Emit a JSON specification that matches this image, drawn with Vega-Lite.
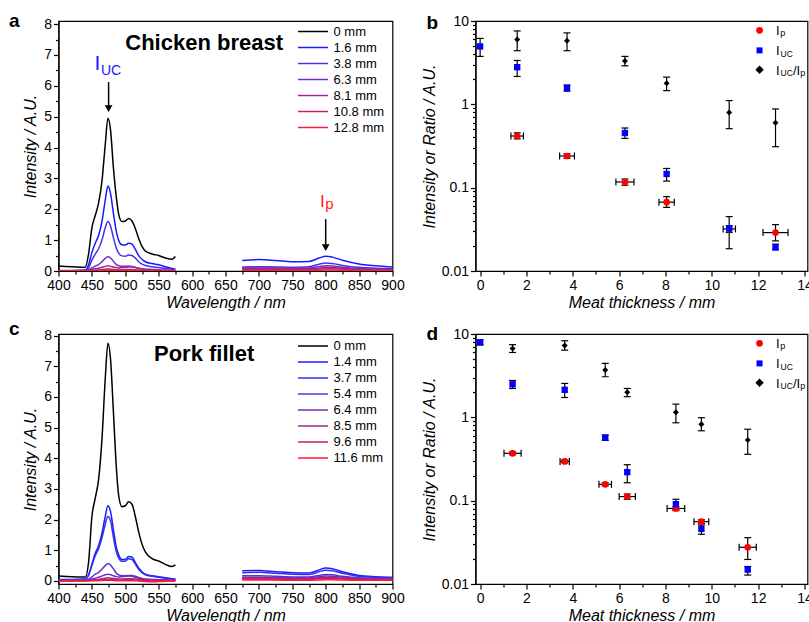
{
  "$schema": "https://vega.github.io/schema/vega-lite/v6.json",
  "padding": {"left": 7.5, "top": 11, "right": 0, "bottom": 0},
  "background": "white",
  "config": {
    "font": "Liberation Sans",
    "view": {"stroke": "#000", "strokeWidth": 1.2},
    "axis": {"domainColor": "#000", "domainWidth": 1.2, "tickColor": "#000", "tickWidth": 1.2, "tickSize": 5, "labelColor": "#000", "labelFontSize": 14, "labelFont": "Liberation Sans", "titleColor": "#000", "titleFontSize": 16, "titleFont": "Liberation Sans", "titleFontStyle": "italic", "titleFontWeight": "normal", "grid": false, "labelFlush": false, "labelPadding": 2, "labelOverlap": false, "labelSeparation": -10}
  },
  "resolve": {"scale": {"color": "independent", "shape": "independent", "size": "independent", "x": "independent", "y": "independent"}, "legend": {"color": "independent", "shape": "independent", "size": "independent"}},
  "columns": 2,
  "bounds": "flush",
  "spacing": {"row": 63, "column": 83},
  "datasets": {
    "specA": [
      {"t":"0 mm","g":"L","w":[400,420,440,445,450,455,460,465,470,474,478,482,486,490,495,500,505,510,515,520,525,530,540,550,560,570,575],"v":[0.16,0.14,0.12,0.55,1.4,1.8,2.2,2.9,4.1,4.95,4.55,3.4,2.5,1.85,1.6,1.62,1.7,1.62,1.38,1.05,0.8,0.65,0.55,0.5,0.42,0.38,0.47]},
      {"t":"1.6 mm","g":"L","w":[400,420,440,445,450,455,460,465,470,474,478,482,486,490,495,500,505,510,515,520,525,530,540,550,560,570,575],"v":[0.02,0.02,0.03,0.2,0.6,0.9,1.15,1.6,2.3,2.75,2.5,1.9,1.35,1.0,0.85,0.84,0.9,0.87,0.7,0.5,0.38,0.3,0.24,0.2,0.14,0.08,0.06]},
      {"t":"3.8 mm","g":"L","w":[400,420,440,445,450,455,460,465,470,474,478,482,486,490,495,500,505,510,515,520,525,530,540,550,560,570,575],"v":[0.01,0.01,0.02,0.1,0.35,0.55,0.72,1.0,1.4,1.6,1.45,1.1,0.78,0.58,0.49,0.48,0.52,0.5,0.42,0.3,0.22,0.18,0.14,0.11,0.08,0.05,0.04]},
      {"t":"6.3 mm","g":"L","w":[400,420,440,445,450,455,460,465,470,474,478,482,486,490,495,500,505,510,515,520,525,530,540,550,560,570,575],"v":[0.01,0.01,0.01,0.04,0.1,0.16,0.21,0.3,0.41,0.46,0.42,0.32,0.22,0.17,0.15,0.15,0.16,0.15,0.12,0.09,0.07,0.06,0.05,0.04,0.03,0.02,0.02]},
      {"t":"8.1 mm","g":"L","w":[400,420,440,445,450,455,460,465,470,474,478,482,486,490,495,500,505,510,515,520,525,530,540,550,560,570,575],"v":[0.005,0.005,0.01,0.02,0.05,0.07,0.09,0.12,0.15,0.17,0.15,0.13,0.11,0.1,0.11,0.12,0.13,0.13,0.11,0.08,0.06,0.05,0.04,0.03,0.02,0.02,0.02]},
      {"t":"10.8 mm","g":"L","w":[400,420,440,445,450,455,460,465,470,474,478,482,486,490,495,500,505,510,515,520,525,530,540,550,560,570,575],"v":[0.005,0.005,0.005,0.01,0.02,0.03,0.035,0.045,0.06,0.07,0.06,0.05,0.04,0.04,0.04,0.045,0.05,0.05,0.04,0.03,0.025,0.02,0.015,0.01,0.01,0.01,0.01]},
      {"t":"12.8 mm","g":"L","w":[400,420,440,445,450,455,460,465,470,474,478,482,486,490,495,500,505,510,515,520,525,530,540,550,560,570,575],"v":[0.01,0.01,0.01,0.01,0.01,0.015,0.015,0.02,0.02,0.025,0.02,0.02,0.015,0.015,0.015,0.015,0.015,0.015,0.015,0.01,0.01,0.01,0.01,0.01,0.01,0.01,0.01]},
      {"t":"1.6 mm","g":"R","w":[675,700,725,750,775,790,800,810,825,850,875,900],"v":[0.34,0.37,0.34,0.3,0.31,0.42,0.48,0.45,0.35,0.23,0.17,0.13]},
      {"t":"3.8 mm","g":"R","w":[675,700,725,750,775,790,800,810,825,850,875,900],"v":[0.13,0.14,0.13,0.12,0.14,0.22,0.26,0.24,0.18,0.12,0.09,0.07]},
      {"t":"6.3 mm","g":"R","w":[675,700,725,750,775,790,800,810,825,850,875,900],"v":[0.1,0.1,0.1,0.09,0.1,0.14,0.17,0.16,0.12,0.08,0.06,0.05]},
      {"t":"8.1 mm","g":"R","w":[675,700,725,750,775,790,800,810,825,850,875,900],"v":[0.08,0.08,0.08,0.07,0.08,0.1,0.12,0.11,0.09,0.06,0.05,0.04]},
      {"t":"10.8 mm","g":"R","w":[675,700,725,750,775,790,800,810,825,850,875,900],"v":[0.05,0.05,0.05,0.05,0.05,0.06,0.07,0.07,0.06,0.04,0.03,0.03]},
      {"t":"12.8 mm","g":"R","w":[675,700,725,750,775,790,800,810,825,850,875,900],"v":[0.02,0.02,0.02,0.02,0.02,0.025,0.03,0.03,0.025,0.02,0.02,0.02]}
    ],
    "specC": [
      {"t":"0 mm","g":"L","w":[400,420,440,445,450,455,460,465,470,474,478,482,486,490,495,500,505,510,515,520,525,530,540,550,560,570,575],"v":[0.16,0.14,0.13,0.6,2.1,2.7,3.3,4.6,6.6,7.75,7.2,5.6,3.9,2.8,2.42,2.45,2.58,2.5,2.1,1.6,1.2,0.95,0.73,0.65,0.54,0.47,0.52]},
      {"t":"1.4 mm","g":"L","w":[400,420,440,445,450,455,460,465,470,474,478,482,486,490,495,500,505,510,515,520,525,530,540,550,560,570,575],"v":[0.05,0.05,0.06,0.2,0.55,0.9,1.15,1.55,2.1,2.45,2.25,1.7,1.15,0.85,0.7,0.7,0.8,0.78,0.6,0.42,0.3,0.22,0.17,0.14,0.1,0.07,0.06]},
      {"t":"3.7 mm","g":"L","w":[400,420,440,445,450,455,460,465,470,474,478,482,486,490,495,500,505,510,515,520,525,530,540,550,560,570,575],"v":[0.04,0.04,0.05,0.18,0.5,0.82,1.05,1.4,1.85,2.1,1.95,1.45,1.0,0.75,0.64,0.64,0.72,0.7,0.55,0.38,0.27,0.2,0.15,0.12,0.09,0.06,0.05]},
      {"t":"5.4 mm","g":"L","w":[400,420,440,445,450,455,460,465,470,474,478,482,486,490,495,500,505,510,515,520,525,530,540,550,560,570,575],"v":[0.02,0.02,0.02,0.05,0.13,0.22,0.28,0.38,0.5,0.57,0.52,0.4,0.27,0.2,0.17,0.17,0.18,0.18,0.15,0.11,0.08,0.06,0.05,0.04,0.03,0.03,0.03]},
      {"t":"6.4 mm","g":"L","w":[400,420,440,445,450,455,460,465,470,474,478,482,486,490,495,500,505,510,515,520,525,530,540,550,560,570,575],"v":[0.01,0.01,0.02,0.03,0.06,0.09,0.12,0.16,0.2,0.22,0.2,0.17,0.14,0.13,0.14,0.15,0.16,0.15,0.12,0.09,0.07,0.05,0.04,0.03,0.02,0.02,0.02]},
      {"t":"8.5 mm","g":"L","w":[400,420,440,445,450,455,460,465,470,474,478,482,486,490,495,500,505,510,515,520,525,530,540,550,560,570,575],"v":[0.01,0.01,0.01,0.02,0.03,0.04,0.05,0.07,0.09,0.1,0.09,0.08,0.07,0.06,0.06,0.07,0.07,0.07,0.06,0.05,0.04,0.03,0.02,0.02,0.02,0.01,0.01]},
      {"t":"9.6 mm","g":"L","w":[400,420,440,445,450,455,460,465,470,474,478,482,486,490,495,500,505,510,515,520,525,530,540,550,560,570,575],"v":[0.01,0.01,0.01,0.01,0.02,0.02,0.03,0.035,0.045,0.05,0.045,0.04,0.035,0.03,0.03,0.035,0.035,0.035,0.03,0.025,0.02,0.015,0.01,0.01,0.01,0.01,0.01]},
      {"t":"11.6 mm","g":"L","w":[400,420,440,445,450,455,460,465,470,474,478,482,486,490,495,500,505,510,515,520,525,530,540,550,560,570,575],"v":[0.005,0.005,0.005,0.005,0.01,0.01,0.01,0.015,0.02,0.02,0.02,0.015,0.01,0.01,0.01,0.01,0.01,0.01,0.005,0.0,-0.01,-0.02,-0.03,-0.02,-0.01,0.0,0.005]},
      {"t":"1.4 mm","g":"R","w":[675,700,725,750,775,790,800,810,825,850,875,900],"v":[0.33,0.34,0.3,0.27,0.26,0.36,0.42,0.4,0.3,0.18,0.14,0.12]},
      {"t":"3.7 mm","g":"R","w":[675,700,725,750,775,790,800,810,825,850,875,900],"v":[0.27,0.28,0.25,0.22,0.21,0.3,0.35,0.33,0.25,0.15,0.12,0.1]},
      {"t":"5.4 mm","g":"R","w":[675,700,725,750,775,790,800,810,825,850,875,900],"v":[0.17,0.17,0.15,0.13,0.13,0.18,0.21,0.2,0.15,0.1,0.09,0.08]},
      {"t":"6.4 mm","g":"R","w":[675,700,725,750,775,790,800,810,825,850,875,900],"v":[0.12,0.12,0.11,0.1,0.1,0.14,0.16,0.15,0.12,0.08,0.07,0.06]},
      {"t":"8.5 mm","g":"R","w":[675,700,725,750,775,790,800,810,825,850,875,900],"v":[0.09,0.09,0.08,0.07,0.07,0.1,0.11,0.11,0.09,0.06,0.05,0.05]},
      {"t":"9.6 mm","g":"R","w":[675,700,725,750,775,790,800,810,825,850,875,900],"v":[0.06,0.06,0.05,0.05,0.05,0.07,0.08,0.08,0.06,0.05,0.04,0.04]},
      {"t":"11.6 mm","g":"R","w":[675,700,725,750,775,790,800,810,825,850,875,900],"v":[0.03,0.03,0.03,0.02,0.02,0.03,0.04,0.04,0.03,0.02,0.02,0.02]}
    ],
    "ptB": [
      {"s":"Ip","x":1.6,"y":0.417,"lo":0.385,"hi":0.455,"xlo":1.33,"xhi":1.87},
      {"s":"Ip","x":3.75,"y":0.24,"lo":0.225,"hi":0.255,"xlo":3.43,"xhi":4.07},
      {"s":"Ip","x":6.25,"y":0.117,"lo":0.107,"hi":0.127,"xlo":5.86,"xhi":6.64},
      {"s":"Ip","x":8.05,"y":0.067,"lo":0.058,"hi":0.078,"xlo":7.72,"xhi":8.38},
      {"s":"Ip","x":10.75,"y":0.032,"lo":0.029,"hi":0.035,"xlo":10.49,"xhi":11.02},
      {"s":"Ip","x":12.75,"y":0.0289,"lo":0.023,"hi":0.036,"xlo":12.21,"xhi":13.29},
      {"s":"IUC","x":0,"y":4.95,"lo":3.76,"hi":6.18},
      {"s":"IUC","x":1.6,"y":2.79,"lo":2.16,"hi":3.36},
      {"s":"IUC","x":3.75,"y":1.58,"lo":1.44,"hi":1.7},
      {"s":"IUC","x":6.25,"y":0.453,"lo":0.39,"hi":0.52},
      {"s":"IUC","x":8.05,"y":0.146,"lo":0.12,"hi":0.17},
      {"s":"IUC","x":10.75,"y":0.0323,"lo":0.0185,"hi":0.045},
      {"s":"IUC","x":12.75,"y":0.0192,"lo":0.018,"hi":0.021},
      {"s":"Ratio","x":1.6,"y":6.0,"lo":4.4,"hi":7.6},
      {"s":"Ratio","x":3.75,"y":5.8,"lo":4.4,"hi":7.2},
      {"s":"Ratio","x":6.25,"y":3.3,"lo":2.9,"hi":3.76},
      {"s":"Ratio","x":8.05,"y":1.79,"lo":1.46,"hi":2.12},
      {"s":"Ratio","x":10.75,"y":0.8,"lo":0.51,"hi":1.11},
      {"s":"Ratio","x":12.75,"y":0.6,"lo":0.31,"hi":0.88}
    ],
    "ptD": [
      {"s":"Ip","x":1.4,"y":0.37,"lo":0.355,"hi":0.385,"xlo":1.03,"xhi":1.77},
      {"s":"Ip","x":3.65,"y":0.296,"lo":0.285,"hi":0.307,"xlo":3.45,"xhi":3.85},
      {"s":"Ip","x":5.4,"y":0.157,"lo":0.15,"hi":0.164,"xlo":5.13,"xhi":5.67},
      {"s":"Ip","x":6.35,"y":0.112,"lo":0.104,"hi":0.12,"xlo":6.0,"xhi":6.7},
      {"s":"Ip","x":8.45,"y":0.0806,"lo":0.076,"hi":0.085,"xlo":8.07,"xhi":8.83},
      {"s":"Ip","x":9.55,"y":0.056,"lo":0.053,"hi":0.059,"xlo":9.23,"xhi":9.87},
      {"s":"Ip","x":11.55,"y":0.0276,"lo":0.0197,"hi":0.036,"xlo":11.18,"xhi":11.92},
      {"s":"IUC","x":0,"y":7.94,"lo":7.4,"hi":8.5},
      {"s":"IUC","x":1.4,"y":2.49,"lo":2.22,"hi":2.77},
      {"s":"IUC","x":3.65,"y":2.14,"lo":1.73,"hi":2.55},
      {"s":"IUC","x":5.4,"y":0.571,"lo":0.53,"hi":0.61},
      {"s":"IUC","x":6.35,"y":0.22,"lo":0.164,"hi":0.27},
      {"s":"IUC","x":8.45,"y":0.0908,"lo":0.0785,"hi":0.104},
      {"s":"IUC","x":9.55,"y":0.0458,"lo":0.0395,"hi":0.051},
      {"s":"IUC","x":11.55,"y":0.0149,"lo":0.0128,"hi":0.0162},
      {"s":"Ratio","x":1.4,"y":6.72,"lo":6.0,"hi":7.45},
      {"s":"Ratio","x":3.65,"y":7.3,"lo":6.4,"hi":8.3},
      {"s":"Ratio","x":5.4,"y":3.69,"lo":3.07,"hi":4.43},
      {"s":"Ratio","x":6.35,"y":2.0,"lo":1.77,"hi":2.22},
      {"s":"Ratio","x":8.45,"y":1.15,"lo":0.86,"hi":1.44},
      {"s":"Ratio","x":9.55,"y":0.826,"lo":0.69,"hi":0.99},
      {"s":"Ratio","x":11.55,"y":0.535,"lo":0.36,"hi":0.72}
    ]
  },
  "concat": [
    {
      "width": 334, "height": 250,
      "resolve": {"axis": {"x": "independent", "y": "independent"}},
      "layer": [
        {"layer": [
          {
            "data": {"name": "specA"},
            "transform": [{"flatten": ["w", "v"]}],
            "mark": {"type": "line", "strokeWidth": 1.5, "interpolate": "monotone", "clip": true},
            "encoding": {
              "x": {"field": "w", "type": "quantitative", "title": "Wavelength / nm", "scale": {"domain": [400, 900], "nice": false, "zero": false},
                "axis": {"orient": "bottom", "tickCount": 10, "labelOverlap": false, "labelSeparation": -10, "titlePadding": 2}},
              "y": {"field": "v", "type": "quantitative", "title": "Intensity / A.U.", "scale": {"domain": [0, 8.1], "nice": false, "zero": false},
                "axis": {"orient": "left", "tickCount": 8, "labelOverlap": false, "labelSeparation": -10, "titlePadding": 5.5}},
              "color": {"field": "t", "type": "nominal",
                "scale": {"domain": ["0 mm","1.6 mm","3.8 mm","6.3 mm","8.1 mm","10.8 mm","12.8 mm"], "range": ["#000000","#1a1aff","#4a30ee","#7030c8","#952a9a","#c8206a","#ff1a3c"]},
                "legend": {"title": null, "orient": "none", "legendX": 258, "legendY": 4, "symbolType": "M-5,0H1", "symbolSize": 100, "symbolStrokeWidth": 1.5, "labelFontSize": 13, "labelColor": "#000", "labelOffset": 4, "rowPadding": 2, "padding": 0}},
              "detail": {"field": "g"}
            }
          },
          {"data": {"values": [{}]}, "mark": {"type": "text", "text": "Chicken breast", "fontSize": 22, "fontWeight": "bold", "align": "center", "baseline": "alphabetic", "color": "#000"}, "encoding": {"x": {"datum": 618}, "y": {"datum": 7.15}}},
          {"data": {"values": [{}]}, "mark": {"type": "text", "text": "I", "fontSize": 21, "align": "center", "baseline": "alphabetic", "color": "#1a1aff"}, "encoding": {"x": {"datum": 458.4}, "y": {"datum": 6.5}}},
          {"data": {"values": [{}]}, "mark": {"type": "text", "text": "UC", "fontSize": 14, "align": "left", "baseline": "alphabetic", "color": "#1a1aff"}, "encoding": {"x": {"datum": 463.5}, "y": {"datum": 6.34}}},
          {"data": {"values": [{}]}, "mark": {"type": "rule", "color": "#000", "strokeWidth": 1.5}, "encoding": {"x": {"datum": 475}, "y": {"datum": 6.12}, "y2": {"datum": 5.35}}},
          {"data": {"values": [{}]}, "mark": {"type": "point", "shape": "triangle-down", "filled": true, "color": "#000", "size": 60, "opacity": 1}, "encoding": {"x": {"datum": 475}, "y": {"datum": 5.26}}},
          {"data": {"values": [{}]}, "mark": {"type": "text", "text": "I", "fontSize": 17, "align": "center", "baseline": "alphabetic", "color": "#ff1a1a"}, "encoding": {"x": {"datum": 795}, "y": {"datum": 2.07}}},
          {"data": {"values": [{}]}, "mark": {"type": "text", "text": "p", "fontSize": 15, "align": "left", "baseline": "alphabetic", "color": "#ff1a1a"}, "encoding": {"x": {"datum": 799.5}, "y": {"datum": 2.0}}},
          {"data": {"values": [{}]}, "mark": {"type": "rule", "color": "#000", "strokeWidth": 1.5}, "encoding": {"x": {"datum": 800}, "y": {"datum": 1.68}, "y2": {"datum": 0.85}}},
          {"data": {"values": [{}]}, "mark": {"type": "point", "shape": "triangle-down", "filled": true, "color": "#000", "size": 60, "opacity": 1}, "encoding": {"x": {"datum": 800}, "y": {"datum": 0.76}}},
          {"data": {"values": [{}]}, "mark": {"type": "text", "text": "a", "fontSize": 19, "fontWeight": "bold", "align": "center", "baseline": "alphabetic", "color": "#000"}, "encoding": {"x": {"datum": 333.7}, "y": {"datum": 7.89}}}
        ]},
        {"data": {"values": [{}]}, "mark": {"type": "point", "opacity": 0},
          "encoding": {
            "x": {"datum": 400, "type": "quantitative", "axis": {"orient": "bottom", "values": [425,475,525,575,625,675,725,775,825,875], "labels": false, "domain": false, "tickSize": 3, "title": null}},
            "y": {"datum": 0, "type": "quantitative", "axis": {"orient": "left", "values": [0.5,1.5,2.5,3.5,4.5,5.5,6.5,7.5], "labels": false, "domain": false, "tickSize": 3, "title": null}}
          }}
      ]
    },
    {
      "width": 332, "height": 250,
      "resolve": {"axis": {"x": "independent", "y": "independent"}},
      "layer": [
        {"layer": [
          {"data": {"name": "ptB"}, "mark": {"type": "rule", "color": "#000", "strokeWidth": 1.2},
            "encoding": {
              "x": {"field": "x", "type": "quantitative", "title": "Meat thickness / mm", "scale": {"domain": [-0.2, 14.13], "nice": false, "zero": false},
                "axis": {"format": "d", "orient": "bottom", "values": [0,2,4,6,8,10,12,14], "titlePadding": 2}},
              "y": {"field": "lo", "type": "quantitative", "title": "Intensity or Ratio / A.U.", "scale": {"type": "log", "domain": [0.01, 10], "nice": false},
                "axis": {"format": "~g", "orient": "left", "values": [0.01,0.1,1,10], "titlePadding": 4}},
              "y2": {"field": "hi"}
            }},
          {"data": {"name": "ptB"}, "mark": {"type": "tick", "orient": "horizontal", "size": 7, "thickness": 1.2, "color": "#000", "opacity": 1},
            "encoding": {"x": {"field": "x", "type": "quantitative", "title": "Meat thickness / mm"}, "y": {"field": "lo", "type": "quantitative", "title": "Intensity or Ratio / A.U."}}},
          {"data": {"name": "ptB"}, "mark": {"type": "tick", "orient": "horizontal", "size": 7, "thickness": 1.2, "color": "#000", "opacity": 1},
            "encoding": {"x": {"field": "x", "type": "quantitative", "title": "Meat thickness / mm"}, "y": {"field": "hi", "type": "quantitative", "title": "Intensity or Ratio / A.U."}}},
          {"data": {"name": "ptB"}, "transform": [{"filter": "isValid(datum.xlo)"}], "mark": {"type": "rule", "color": "#000", "strokeWidth": 1.2},
            "encoding": {"x": {"field": "xlo", "type": "quantitative", "title": "Meat thickness / mm"}, "x2": {"field": "xhi"}, "y": {"field": "y", "type": "quantitative", "title": "Intensity or Ratio / A.U."}}},
          {"data": {"name": "ptB"}, "transform": [{"filter": "isValid(datum.xlo)"}], "mark": {"type": "tick", "orient": "vertical", "size": 7, "thickness": 1.2, "color": "#000", "opacity": 1},
            "encoding": {"x": {"field": "xlo", "type": "quantitative", "title": "Meat thickness / mm"}, "y": {"field": "y", "type": "quantitative", "title": "Intensity or Ratio / A.U."}}},
          {"data": {"name": "ptB"}, "transform": [{"filter": "isValid(datum.xlo)"}], "mark": {"type": "tick", "orient": "vertical", "size": 7, "thickness": 1.2, "color": "#000", "opacity": 1},
            "encoding": {"x": {"field": "xhi", "type": "quantitative", "title": "Meat thickness / mm"}, "y": {"field": "y", "type": "quantitative", "title": "Intensity or Ratio / A.U."}}},
          {"data": {"name": "ptB"}, "mark": {"type": "point", "filled": true, "opacity": 1},
            "encoding": {
              "x": {"field": "x", "type": "quantitative", "title": "Meat thickness / mm"},
              "y": {"field": "y", "type": "quantitative", "title": "Intensity or Ratio / A.U."},
              "shape": {"field": "s", "type": "nominal", "scale": {"domain": ["Ip","IUC","Ratio"], "range": ["circle","square","diamond"]}, "legend": null},
              "color": {"field": "s", "type": "nominal", "scale": {"domain": ["Ip","IUC","Ratio"], "range": ["#ff0000","#0000ff","#000000"]}, "legend": null},
              "size": {"field": "s", "type": "nominal", "scale": {"domain": ["Ip","IUC","Ratio"], "range": [45,36,70]}, "legend": null}
            }},
          {"data": {"values": [{}]}, "mark": {"type": "point", "filled": true, "shape": "circle", "color": "#ff0000", "size": 45, "opacity": 1}, "encoding": {"x": {"datum": 12.06}, "y": {"datum": 7.72}}},
          {"data": {"values": [{}]}, "mark": {"type": "point", "filled": true, "shape": "square", "color": "#0000ff", "size": 36, "opacity": 1}, "encoding": {"x": {"datum": 12.06}, "y": {"datum": 4.44}}},
          {"data": {"values": [{}]}, "mark": {"type": "point", "filled": true, "shape": "diamond", "color": "#000000", "size": 70, "opacity": 1}, "encoding": {"x": {"datum": 12.06}, "y": {"datum": 2.6}}},
          {"data": {"values": [{}]}, "mark": {"type": "text", "text": "I", "fontSize": 13, "align": "left", "baseline": "alphabetic", "color": "#000"}, "encoding": {"x": {"datum": 12.77}, "y": {"datum": 6.78}}},
          {"data": {"values": [{}]}, "mark": {"type": "text", "text": "p", "fontSize": 9, "align": "left", "baseline": "alphabetic", "color": "#000"}, "encoding": {"x": {"datum": 12.95}, "y": {"datum": 6.54}}},
          {"data": {"values": [{}]}, "mark": {"type": "text", "text": "I", "fontSize": 13, "align": "left", "baseline": "alphabetic", "color": "#000"}, "encoding": {"x": {"datum": 12.77}, "y": {"datum": 3.86}}},
          {"data": {"values": [{}]}, "mark": {"type": "text", "text": "UC", "fontSize": 8.5, "align": "left", "baseline": "alphabetic", "color": "#000"}, "encoding": {"x": {"datum": 12.97}, "y": {"datum": 3.69}}},
          {"data": {"values": [{}]}, "mark": {"type": "text", "text": "I", "fontSize": 13, "align": "left", "baseline": "alphabetic", "color": "#000"}, "encoding": {"x": {"datum": 12.77}, "y": {"datum": 2.26}}},
          {"data": {"values": [{}]}, "mark": {"type": "text", "text": "UC", "fontSize": 8.5, "align": "left", "baseline": "alphabetic", "color": "#000"}, "encoding": {"x": {"datum": 12.97}, "y": {"datum": 2.16}}},
          {"data": {"values": [{}]}, "mark": {"type": "text", "text": "/I", "fontSize": 13, "align": "left", "baseline": "alphabetic", "color": "#000"}, "encoding": {"x": {"datum": 13.5}, "y": {"datum": 2.26}}},
          {"data": {"values": [{}]}, "mark": {"type": "text", "text": "p", "fontSize": 9, "align": "left", "baseline": "alphabetic", "color": "#000"}, "encoding": {"x": {"datum": 13.82}, "y": {"datum": 2.16}}},
          {"data": {"values": [{}]}, "mark": {"type": "text", "text": "b", "fontSize": 19, "fontWeight": "bold", "align": "center", "baseline": "alphabetic", "color": "#000"}, "encoding": {"x": {"datum": -2.07}, "y": {"datum": 8.1}}}
        ]},
        {"data": {"values": [{}]}, "mark": {"type": "point", "opacity": 0},
          "encoding": {
            "x": {"datum": 1, "type": "quantitative", "axis": {"orient": "bottom", "values": [1,3,5,7,9,11,13], "labels": false, "domain": false, "tickSize": 3, "title": null}},
            "y": {"datum": 1, "type": "quantitative", "axis": {"orient": "left", "values": [0.02,0.03,0.04,0.05,0.06,0.07,0.08,0.09,0.2,0.3,0.4,0.5,0.6,0.7,0.8,0.9,2,3,4,5,6,7,8,9], "labels": false, "domain": false, "tickSize": 3, "title": null}}
          }}
      ]
    },
    {
      "width": 334, "height": 250,
      "resolve": {"axis": {"x": "independent", "y": "independent"}},
      "layer": [
        {"layer": [
          {
            "data": {"name": "specC"},
            "transform": [{"flatten": ["w", "v"]}],
            "mark": {"type": "line", "strokeWidth": 1.5, "interpolate": "monotone", "clip": true},
            "encoding": {
              "x": {"field": "w", "type": "quantitative", "title": "Wavelength / nm", "scale": {"domain": [400, 900], "nice": false, "zero": false},
                "axis": {"orient": "bottom", "tickCount": 10, "labelOverlap": false, "labelSeparation": -10, "titlePadding": 2}},
              "y": {"field": "v", "type": "quantitative", "title": "Intensity / A.U.", "scale": {"domain": [-0.1, 8.05], "nice": false, "zero": false},
                "axis": {"orient": "left", "tickCount": 8, "labelOverlap": false, "labelSeparation": -10, "titlePadding": 5.5}},
              "color": {"field": "t", "type": "nominal",
                "scale": {"domain": ["0 mm","1.4 mm","3.7 mm","5.4 mm","6.4 mm","8.5 mm","9.6 mm","11.6 mm"], "range": ["#000000","#1a1aff","#3030f0","#5a30d8","#7a2ab8","#9a2890","#c01e6a","#ff1a3a"]},
                "legend": {"title": null, "orient": "none", "legendX": 258, "legendY": 5.5, "symbolType": "M-5,0H1", "symbolSize": 100, "symbolStrokeWidth": 1.5, "labelFontSize": 13, "labelColor": "#000", "labelOffset": 4, "rowPadding": 2, "padding": 0}},
              "detail": {"field": "g"}
            }
          },
          {"data": {"values": [{}]}, "mark": {"type": "text", "text": "Pork fillet", "fontSize": 22, "fontWeight": "bold", "align": "center", "baseline": "alphabetic", "color": "#000"}, "encoding": {"x": {"datum": 618}, "y": {"datum": 7.16}}},
          {"data": {"values": [{}]}, "mark": {"type": "text", "text": "c", "fontSize": 19, "fontWeight": "bold", "align": "center", "baseline": "alphabetic", "color": "#000"}, "encoding": {"x": {"datum": 333.7}, "y": {"datum": 8.03}}}
        ]},
        {"data": {"values": [{}]}, "mark": {"type": "point", "opacity": 0},
          "encoding": {
            "x": {"datum": 400, "type": "quantitative", "axis": {"orient": "bottom", "values": [425,475,525,575,625,675,725,775,825,875], "labels": false, "domain": false, "tickSize": 3, "title": null}},
            "y": {"datum": 0, "type": "quantitative", "axis": {"orient": "left", "values": [0.5,1.5,2.5,3.5,4.5,5.5,6.5,7.5], "labels": false, "domain": false, "tickSize": 3, "title": null}}
          }}
      ]
    },
    {
      "width": 332, "height": 250,
      "resolve": {"axis": {"x": "independent", "y": "independent"}},
      "layer": [
        {"layer": [
          {"data": {"name": "ptD"}, "mark": {"type": "rule", "color": "#000", "strokeWidth": 1.2},
            "encoding": {
              "x": {"field": "x", "type": "quantitative", "title": "Meat thickness / mm", "scale": {"domain": [-0.2, 14.13], "nice": false, "zero": false},
                "axis": {"format": "d", "orient": "bottom", "values": [0,2,4,6,8,10,12,14], "titlePadding": 2}},
              "y": {"field": "lo", "type": "quantitative", "title": "Intensity or Ratio / A.U.", "scale": {"type": "log", "domain": [0.01, 10], "nice": false},
                "axis": {"format": "~g", "orient": "left", "values": [0.01,0.1,1,10], "titlePadding": 4}},
              "y2": {"field": "hi"}
            }},
          {"data": {"name": "ptD"}, "mark": {"type": "tick", "orient": "horizontal", "size": 7, "thickness": 1.2, "color": "#000", "opacity": 1},
            "encoding": {"x": {"field": "x", "type": "quantitative", "title": "Meat thickness / mm"}, "y": {"field": "lo", "type": "quantitative", "title": "Intensity or Ratio / A.U."}}},
          {"data": {"name": "ptD"}, "mark": {"type": "tick", "orient": "horizontal", "size": 7, "thickness": 1.2, "color": "#000", "opacity": 1},
            "encoding": {"x": {"field": "x", "type": "quantitative", "title": "Meat thickness / mm"}, "y": {"field": "hi", "type": "quantitative", "title": "Intensity or Ratio / A.U."}}},
          {"data": {"name": "ptD"}, "transform": [{"filter": "isValid(datum.xlo)"}], "mark": {"type": "rule", "color": "#000", "strokeWidth": 1.2},
            "encoding": {"x": {"field": "xlo", "type": "quantitative", "title": "Meat thickness / mm"}, "x2": {"field": "xhi"}, "y": {"field": "y", "type": "quantitative", "title": "Intensity or Ratio / A.U."}}},
          {"data": {"name": "ptD"}, "transform": [{"filter": "isValid(datum.xlo)"}], "mark": {"type": "tick", "orient": "vertical", "size": 7, "thickness": 1.2, "color": "#000", "opacity": 1},
            "encoding": {"x": {"field": "xlo", "type": "quantitative", "title": "Meat thickness / mm"}, "y": {"field": "y", "type": "quantitative", "title": "Intensity or Ratio / A.U."}}},
          {"data": {"name": "ptD"}, "transform": [{"filter": "isValid(datum.xlo)"}], "mark": {"type": "tick", "orient": "vertical", "size": 7, "thickness": 1.2, "color": "#000", "opacity": 1},
            "encoding": {"x": {"field": "xhi", "type": "quantitative", "title": "Meat thickness / mm"}, "y": {"field": "y", "type": "quantitative", "title": "Intensity or Ratio / A.U."}}},
          {"data": {"name": "ptD"}, "mark": {"type": "point", "filled": true, "opacity": 1},
            "encoding": {
              "x": {"field": "x", "type": "quantitative", "title": "Meat thickness / mm"},
              "y": {"field": "y", "type": "quantitative", "title": "Intensity or Ratio / A.U."},
              "shape": {"field": "s", "type": "nominal", "scale": {"domain": ["Ip","IUC","Ratio"], "range": ["circle","square","diamond"]}, "legend": null},
              "color": {"field": "s", "type": "nominal", "scale": {"domain": ["Ip","IUC","Ratio"], "range": ["#ff0000","#0000ff","#000000"]}, "legend": null},
              "size": {"field": "s", "type": "nominal", "scale": {"domain": ["Ip","IUC","Ratio"], "range": [45,36,70]}, "legend": null}
            }},
          {"data": {"values": [{}]}, "mark": {"type": "point", "filled": true, "shape": "circle", "color": "#ff0000", "size": 45, "opacity": 1}, "encoding": {"x": {"datum": 12.06}, "y": {"datum": 7.72}}},
          {"data": {"values": [{}]}, "mark": {"type": "point", "filled": true, "shape": "square", "color": "#0000ff", "size": 36, "opacity": 1}, "encoding": {"x": {"datum": 12.06}, "y": {"datum": 4.44}}},
          {"data": {"values": [{}]}, "mark": {"type": "point", "filled": true, "shape": "diamond", "color": "#000000", "size": 70, "opacity": 1}, "encoding": {"x": {"datum": 12.06}, "y": {"datum": 2.6}}},
          {"data": {"values": [{}]}, "mark": {"type": "text", "text": "I", "fontSize": 13, "align": "left", "baseline": "alphabetic", "color": "#000"}, "encoding": {"x": {"datum": 12.77}, "y": {"datum": 6.78}}},
          {"data": {"values": [{}]}, "mark": {"type": "text", "text": "p", "fontSize": 9, "align": "left", "baseline": "alphabetic", "color": "#000"}, "encoding": {"x": {"datum": 12.95}, "y": {"datum": 6.54}}},
          {"data": {"values": [{}]}, "mark": {"type": "text", "text": "I", "fontSize": 13, "align": "left", "baseline": "alphabetic", "color": "#000"}, "encoding": {"x": {"datum": 12.77}, "y": {"datum": 3.86}}},
          {"data": {"values": [{}]}, "mark": {"type": "text", "text": "UC", "fontSize": 8.5, "align": "left", "baseline": "alphabetic", "color": "#000"}, "encoding": {"x": {"datum": 12.97}, "y": {"datum": 3.69}}},
          {"data": {"values": [{}]}, "mark": {"type": "text", "text": "I", "fontSize": 13, "align": "left", "baseline": "alphabetic", "color": "#000"}, "encoding": {"x": {"datum": 12.77}, "y": {"datum": 2.26}}},
          {"data": {"values": [{}]}, "mark": {"type": "text", "text": "UC", "fontSize": 8.5, "align": "left", "baseline": "alphabetic", "color": "#000"}, "encoding": {"x": {"datum": 12.97}, "y": {"datum": 2.16}}},
          {"data": {"values": [{}]}, "mark": {"type": "text", "text": "/I", "fontSize": 13, "align": "left", "baseline": "alphabetic", "color": "#000"}, "encoding": {"x": {"datum": 13.5}, "y": {"datum": 2.26}}},
          {"data": {"values": [{}]}, "mark": {"type": "text", "text": "p", "fontSize": 9, "align": "left", "baseline": "alphabetic", "color": "#000"}, "encoding": {"x": {"datum": 13.82}, "y": {"datum": 2.16}}},
          {"data": {"values": [{}]}, "mark": {"type": "text", "text": "d", "fontSize": 19, "fontWeight": "bold", "align": "center", "baseline": "alphabetic", "color": "#000"}, "encoding": {"x": {"datum": -2.07}, "y": {"datum": 8.47}}}
        ]},
        {"data": {"values": [{}]}, "mark": {"type": "point", "opacity": 0},
          "encoding": {
            "x": {"datum": 1, "type": "quantitative", "axis": {"orient": "bottom", "values": [1,3,5,7,9,11,13], "labels": false, "domain": false, "tickSize": 3, "title": null}},
            "y": {"datum": 1, "type": "quantitative", "axis": {"orient": "left", "values": [0.02,0.03,0.04,0.05,0.06,0.07,0.08,0.09,0.2,0.3,0.4,0.5,0.6,0.7,0.8,0.9,2,3,4,5,6,7,8,9], "labels": false, "domain": false, "tickSize": 3, "title": null}}
          }}
      ]
    }
  ]
}
